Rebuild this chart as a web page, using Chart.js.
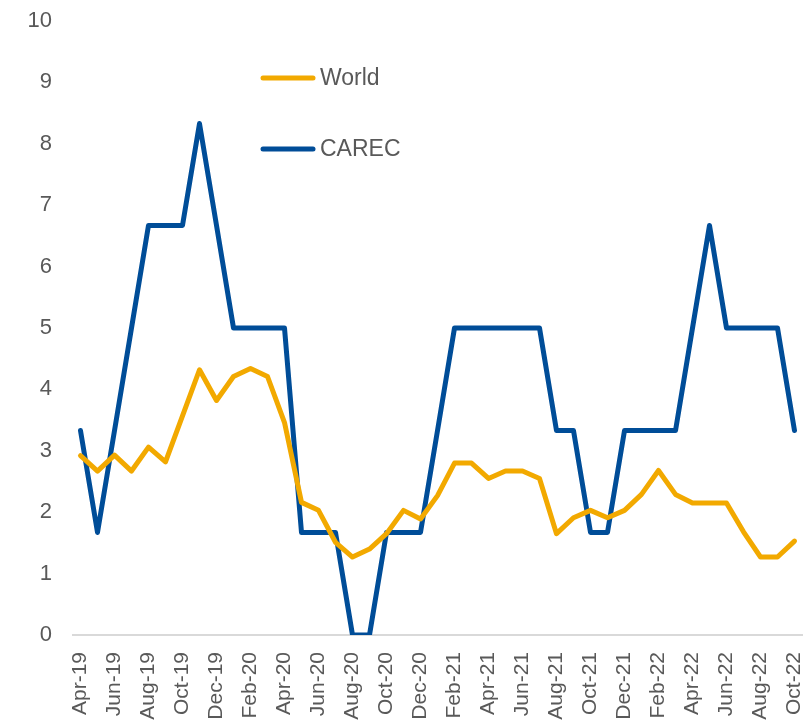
<!DOCTYPE html>
<html>
<head>
<meta charset="utf-8">
<script src="https://cdn.jsdelivr.net/npm/chart.js@4/dist/chart.umd.min.js"></script>
<style>
  html, body { margin: 0; padding: 0; background: #fff; }
  #wrap { width: 808px; height: 725px; position: relative; }
</style>
</head>
<body>
<div id="wrap"><canvas id="chart" width="808" height="725"></canvas></div>
<script>
// --- data ---
const months = [
  "Apr-19","May-19","Jun-19","Jul-19","Aug-19","Sep-19","Oct-19","Nov-19","Dec-19",
  "Jan-20","Feb-20","Mar-20","Apr-20","May-20","Jun-20","Jul-20","Aug-20","Sep-20","Oct-20","Nov-20","Dec-20",
  "Jan-21","Feb-21","Mar-21","Apr-21","May-21","Jun-21","Jul-21","Aug-21","Sep-21","Oct-21","Nov-21","Dec-21",
  "Jan-22","Feb-22","Mar-22","Apr-22","May-22","Jun-22","Jul-22","Aug-22","Sep-22","Oct-22"
];
const world = [
  2.92, 2.67, 2.93, 2.67, 3.06, 2.82, 3.57, 4.32, 3.82,
  4.21, 4.34, 4.21, 3.46, 2.16, 2.03, 1.51, 1.27, 1.40, 1.65, 2.03, 1.89,
  2.27, 2.80, 2.80, 2.55, 2.67, 2.67, 2.55, 1.65, 1.91, 2.03, 1.91, 2.03,
  2.29, 2.68, 2.29, 2.15, 2.15, 2.15, 1.68, 1.27, 1.27, 1.53
];
const carec = [
  3.33, 1.67, 3.33, 5.00, 6.67, 6.67, 6.67, 8.33, 6.67,
  5.00, 5.00, 5.00, 5.00, 1.67, 1.67, 1.67, 0.00, 0.00, 1.67, 1.67, 1.67,
  3.33, 5.00, 5.00, 5.00, 5.00, 5.00, 5.00, 3.33, 3.33, 1.67, 1.67, 3.33,
  3.33, 3.33, 3.33, 5.00, 6.67, 5.00, 5.00, 5.00, 5.00, 3.33
];
const yTicks = [0, 1, 2, 3, 4, 5, 6, 7, 8, 9, 10];

const textColor = "#595959";
const fontFamily = "'Liberation Sans', Arial, sans-serif";

// legend drawn inside the plot, like the original
const innerLegend = {
  id: "innerLegend",
  afterDraw(chart) {
    const ctx = chart.ctx;
    const rows = [78, 149];
    ctx.save();
    chart.data.datasets.forEach((ds, i) => {
      const y = rows[i];
      ctx.strokeStyle = ds.borderColor;
      ctx.lineWidth = 5;
      ctx.lineCap = "round";
      ctx.beginPath();
      ctx.moveTo(263, y);
      ctx.lineTo(313, y);
      ctx.stroke();
      ctx.fillStyle = textColor;
      ctx.font = "23px " + fontFamily;
      ctx.textBaseline = "middle";
      ctx.textAlign = "left";
      ctx.fillText(ds.label, 320, y + 1);
    });
    ctx.restore();
  }
};

new Chart(document.getElementById("chart").getContext("2d"), {
  type: "line",
  data: {
    labels: months,
    datasets: [
      {
        label: "World",
        data: world,
        borderColor: "#F2A900",
        borderWidth: 5,
        pointRadius: 0,
        tension: 0,
        borderJoinStyle: "round",
        borderCapStyle: "round"
      },
      {
        label: "CAREC",
        data: carec,
        borderColor: "#004D98",
        borderWidth: 5,
        pointRadius: 0,
        tension: 0,
        borderJoinStyle: "round",
        borderCapStyle: "round"
      }
    ]
  },
  options: {
    responsive: false,
    animation: false,
    layout: { padding: { top: 21, right: 5, left: 0, bottom: 0 } },
    plugins: {
      legend: { display: false },
      tooltip: { enabled: false }
    },
    scales: {
      x: {
        offset: true,
        grid: { display: false, drawTicks: false },
        border: { display: false },
        afterFit: (s) => {
          s.height = 90;
          s.paddingLeft = 0;
          s.paddingRight = 0;
        },
        ticks: {
          autoSkip: false,
          maxRotation: 90,
          minRotation: 90,
          padding: 17,
          color: textColor,
          font: { size: 21, family: fontFamily },
          callback: function (val, i) { return i % 2 === 0 ? months[i] : ""; }
        }
      },
      y: {
        min: 0,
        max: 10,
        afterFit: (s) => {
          s.width = 72;
          s.paddingTop = 0;
          s.paddingBottom = 0;
        },
        afterBuildTicks: (s) => { s.ticks = yTicks.map(v => ({ value: v })); },
        grid: {
          drawTicks: false,
          lineWidth: 2,
          color: (c) => c.tick && c.tick.value === 0 ? "#D9D9D9" : "rgba(0,0,0,0)"
        },
        border: { display: false },
        ticks: {
          padding: 20,
          color: textColor,
          font: { size: 22, family: fontFamily }
        }
      }
    }
  },
  plugins: [innerLegend]
});
</script>
</body>
</html>
